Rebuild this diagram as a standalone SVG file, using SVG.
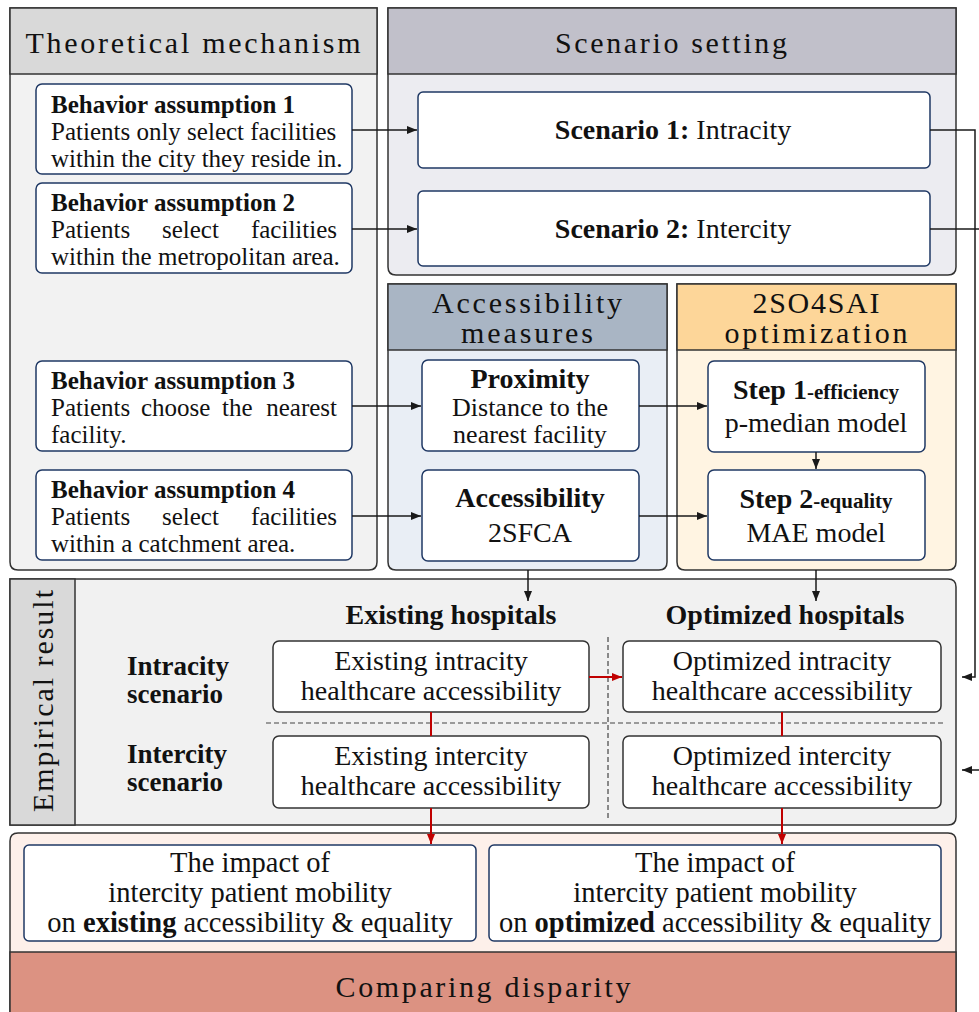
<svg xmlns="http://www.w3.org/2000/svg" width="979" height="1012" viewBox="0 0 979 1012">
<defs>
<marker id="ak" markerWidth="10" markerHeight="8" refX="10" refY="4" orient="auto" markerUnits="userSpaceOnUse"><path d="M0,0 L10,4 L0,8 Z" fill="#1a1a1a"/></marker>
<marker id="ar" markerWidth="10" markerHeight="8" refX="10" refY="4" orient="auto" markerUnits="userSpaceOnUse"><path d="M0,0 L10,4 L0,8 Z" fill="#c00000"/></marker>
</defs>
<style>
text{font-family:"Liberation Serif","Times New Roman",serif;fill:#111;}
.pan{stroke:#333;stroke-width:1.5;}
.nb{fill:#fff;stroke:#1f3864;stroke-width:1.5;}
.eb{fill:#fff;stroke:#333;stroke-width:1.5;}
.hd{font-size:30px;text-anchor:middle;}
.bt{font-size:25px;font-weight:bold;}
.rt{font-size:25px;}
.c{text-anchor:middle;}
.e{text-anchor:end;}
.b{font-weight:bold;}
.f28{font-size:28px;}
.f27{font-size:27px;}
.ln{stroke:#1a1a1a;stroke-width:1.5;fill:none;}
.rl{stroke:#c00000;stroke-width:2;fill:none;}
.ds{stroke:#444;stroke-width:1.2;stroke-dasharray:5,3;fill:none;}
</style>

<g id="panel-theoretical">
<path class="pan" d="M10,8 H377 V562 Q377,570 369,570 H18 Q10,570 10,562 Z" fill="#f2f2f2"/>
<rect class="pan" x="10" y="8" width="367" height="66" fill="#d9d9d9"/>
<text class="hd" x="193" y="53" textLength="335" lengthAdjust="spacing">Theoretical mechanism</text>
</g>

<g id="panel-scenario">
<path class="pan" d="M388,8 H956 V267 Q956,275 948,275 H396 Q388,275 388,267 Z" fill="#ececf1"/>
<rect class="pan" x="388" y="8" width="568" height="66" fill="#c1c0ca"/>
<text class="hd" x="671" y="53" textLength="232" lengthAdjust="spacing">Scenario setting</text>
</g>

<g id="panel-access">
<path class="pan" d="M388,284 H667 V562 Q667,570 659,570 H396 Q388,570 388,562 Z" fill="#e9eef5"/>
<rect class="pan" x="388" y="284" width="279" height="66" fill="#a9b5c4"/>
<text class="hd" x="527" y="313" textLength="190" lengthAdjust="spacing">Accessibility</text>
<text class="hd" x="527" y="343" textLength="132" lengthAdjust="spacing">measures</text>
</g>

<g id="panel-opt">
<path class="pan" d="M677,284 H956 V562 Q956,570 948,570 H685 Q677,570 677,562 Z" fill="#fff4e2"/>
<rect class="pan" x="677" y="284" width="279" height="66" fill="#fdd699"/>
<text class="hd" x="816" y="313" textLength="127" lengthAdjust="spacing">2SO4SAI</text>
<text class="hd" x="816" y="343" textLength="183" lengthAdjust="spacing">optimization</text>
</g>

<g id="ba1">
<rect class="nb" x="36" y="84" width="316" height="90" rx="6"/>
<text class="bt" x="51" y="113">Behavior assumption 1</text>
<text class="rt" x="51" y="140">Patients only select facilities</text>
<text class="rt" x="51" y="167">within the city they reside in.</text>
</g>
<g id="ba2">
<rect class="nb" x="36" y="183" width="316" height="90" rx="6"/>
<text class="bt" x="51" y="211">Behavior assumption 2</text>
<text class="rt" x="51" y="238">Patients</text>
<text class="rt" x="162" y="238">select</text>
<text class="rt e" x="337" y="238">facilities</text>
<text class="rt" x="51" y="265">within the metropolitan area.</text>
</g>
<g id="ba3">
<rect class="nb" x="36" y="361" width="316" height="90" rx="6"/>
<text class="bt" x="51" y="389">Behavior assumption 3</text>
<text class="rt" x="51" y="416">Patients</text>
<text class="rt" x="141" y="416">choose</text>
<text class="rt" x="222" y="416">the</text>
<text class="rt e" x="337" y="416">nearest</text>
<text class="rt" x="51" y="443">facility.</text>
</g>
<g id="ba4">
<rect class="nb" x="36" y="470" width="316" height="90" rx="6"/>
<text class="bt" x="51" y="498">Behavior assumption 4</text>
<text class="rt" x="51" y="525">Patients</text>
<text class="rt" x="162" y="525">select</text>
<text class="rt e" x="337" y="525">facilities</text>
<text class="rt" x="51" y="552">within a catchment area.</text>
</g>

<g id="sc1">
<rect class="nb" x="418" y="92" width="512" height="76" rx="5"/>
<text class="f28 c" x="673" y="139"><tspan class="b">Scenario 1:</tspan> Intracity</text>
</g>
<g id="sc2">
<rect class="nb" x="418" y="191" width="512" height="75" rx="5"/>
<text class="f28 c" x="673" y="238"><tspan class="b">Scenario 2:</tspan> Intercity</text>
</g>

<g id="prox">
<rect class="nb" x="422" y="360" width="217" height="91" rx="6"/>
<text class="f28 c b" x="530" y="388">Proximity</text>
<text class="c" font-size="26" x="530" y="416">Distance to the</text>
<text class="c" font-size="26" x="530" y="443">nearest facility</text>
</g>
<g id="acc">
<rect class="nb" x="422" y="470" width="217" height="91" rx="6"/>
<text class="f28 c b" x="530" y="507">Accessibility</text>
<text class="f28 c" x="530" y="542">2SFCA</text>
</g>
<g id="step1">
<rect class="nb" x="708" y="361" width="217" height="91" rx="6"/>
<text class="c b" x="816" y="399"><tspan font-size="28">Step 1</tspan><tspan font-size="21">-efficiency</tspan></text>
<text class="f28 c" x="816" y="432">p-median model</text>
</g>
<g id="step2">
<rect class="nb" x="708" y="470" width="217" height="90" rx="6"/>
<text class="c b" x="816" y="508"><tspan font-size="28">Step 2</tspan><tspan font-size="21">-equality</tspan></text>
<text class="f28 c" x="816" y="542">MAE model</text>
</g>

<g id="panel-empirical">
<path class="pan" d="M10,579 H948 Q956,579 956,587 V817 Q956,825 948,825 H10 Z" fill="#f1f1f1"/>
<rect class="pan" x="10" y="579" width="65" height="246" fill="#d9d9d9"/>
<text class="hd" transform="translate(53,701) rotate(-90)" textLength="222" lengthAdjust="spacing">Empirical result</text>
<text class="f28 c b" x="451" y="624">Existing hospitals</text>
<text class="f28 c b" x="785" y="624">Optimized hospitals</text>
<text class="f27 b" x="127" y="675">Intracity</text>
<text class="f27 b" x="127" y="703">scenario</text>
<text class="f27 b" x="127" y="763">Intercity</text>
<text class="f27 b" x="127" y="791">scenario</text>
<path class="ds" d="M266,723 H945"/>
<path class="ds" d="M608,637 V818"/>
</g>

<g id="ex-intra">
<rect class="eb" x="273" y="641" width="316" height="71" rx="6"/>
<text class="f28 c" x="431" y="670">Existing intracity</text>
<text class="f28 c" x="431" y="700">healthcare accessibility</text>
</g>
<g id="op-intra">
<rect class="eb" x="623" y="641" width="318" height="71" rx="6"/>
<text class="f28 c" x="782" y="670">Optimized intracity</text>
<text class="f28 c" x="782" y="700">healthcare accessibility</text>
</g>
<g id="ex-inter">
<rect class="eb" x="273" y="736" width="316" height="72" rx="6"/>
<text class="f28 c" x="431" y="765">Existing intercity</text>
<text class="f28 c" x="431" y="795">healthcare accessibility</text>
</g>
<g id="op-inter">
<rect class="eb" x="623" y="736" width="318" height="72" rx="6"/>
<text class="f28 c" x="782" y="765">Optimized intercity</text>
<text class="f28 c" x="782" y="795">healthcare accessibility</text>
</g>

<g id="panel-bottom">
<path class="pan" d="M18,833 H948 Q956,833 956,841 V1012 H10 V841 Q10,833 18,833 Z" fill="#fdf0ea"/>
<rect class="pan" x="10" y="952" width="946" height="62" fill="#dc9282"/>
<text class="hd" x="483" y="997" textLength="295" lengthAdjust="spacing">Comparing disparity</text>
</g>
<g id="impact-ex">
<rect class="nb" x="24" y="845" width="452" height="96" rx="5"/>
<text class="c" font-size="28.5" x="250" y="872">The impact of</text>
<text class="c" font-size="28.5" x="250" y="902">intercity patient mobility</text>
<text class="c" font-size="28.5" x="250" y="932">on <tspan class="b">existing</tspan> accessibility &amp; equality</text>
</g>
<g id="impact-op">
<rect class="nb" x="489" y="845" width="452" height="96" rx="5"/>
<text class="c" font-size="28.5" x="715" y="872">The impact of</text>
<text class="c" font-size="28.5" x="715" y="902">intercity patient mobility</text>
<text class="c" font-size="28.5" x="715" y="932">on <tspan class="b">optimized</tspan> accessibility &amp; equality</text>
</g>

<g id="connectors">
<path class="ln" d="M352,130 H417" marker-end="url(#ak)"/>
<path class="ln" d="M352,229 H417" marker-end="url(#ak)"/>
<path class="ln" d="M352,406 H421" marker-end="url(#ak)"/>
<path class="ln" d="M352,516 H421" marker-end="url(#ak)"/>
<path class="ln" d="M639,406 H707" marker-end="url(#ak)"/>
<path class="ln" d="M639,516 H707" marker-end="url(#ak)"/>
<path class="ln" d="M816,452 V469" marker-end="url(#ak)"/>
<path class="ln" d="M528,570 V601" marker-end="url(#ak)"/>
<path class="ln" d="M816,570 V601" marker-end="url(#ak)"/>
<path class="ln" d="M930,130 H975 V677 H962" marker-end="url(#ak)"/>
<path class="ln" d="M930,229 H979"/>
<path class="ln" d="M979,770 H962" marker-end="url(#ak)"/>
<path class="rl" d="M589,677 H622" marker-end="url(#ar)"/>
<path class="rl" d="M431,712 V736"/>
<path class="rl" d="M782,712 V736"/>
<path class="rl" d="M431,808 V844" marker-end="url(#ar)"/>
<path class="rl" d="M782,808 V844" marker-end="url(#ar)"/>
</g>
</svg>
